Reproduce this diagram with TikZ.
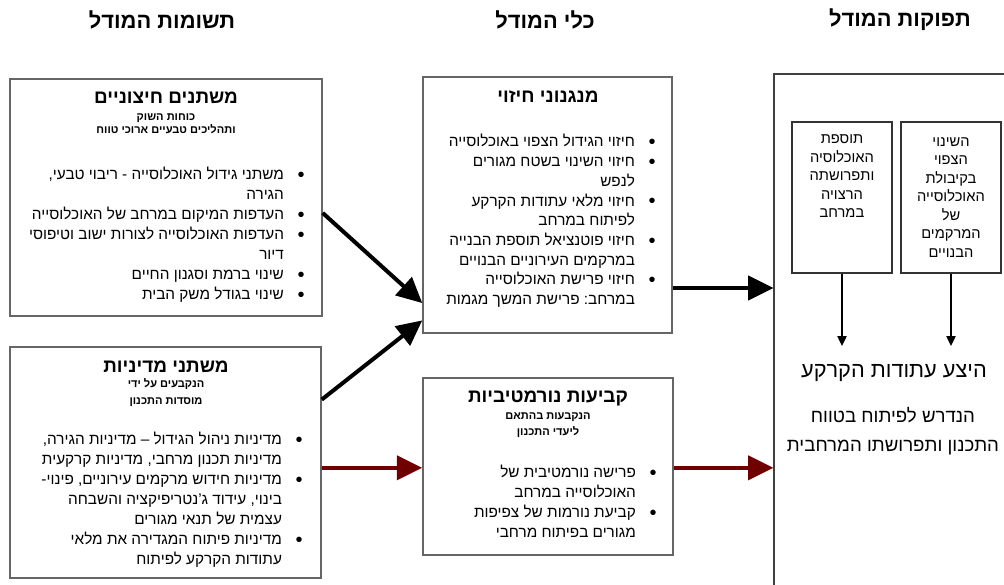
\documentclass[tikz,border=0pt]{standalone}
\usepackage{fontspec}
\setmainfont[Script=Hebrew]{Liberation Sans}
\usepackage{tikz}
\usetikzlibrary{arrows.meta}
\TeXXeTstate=1
\frenchspacing
\definecolor{modred}{RGB}{112,0,0}
\newcommand{\rl}[1]{\hbox{\beginR#1\endR}}
\newcommand{\blt}{\raisebox{-0.1em}{\fontsize{15}{15}\selectfont\textbullet}}
\newcommand{\itm}[1]{\rl{\blt\hspace{0.9em}#1}}
\newcommand{\cnt}[1]{\rl{\phantom{\blt}\hspace{0.9em}#1}}

\begin{document}
\begin{tikzpicture}[x=0.75pt, y=-0.75pt,
  box/.style={draw=black!60, line width=1.1pt, inner sep=0pt},
  ibox/.style={draw=black!80, line width=1pt, inner sep=0pt, minimum width=75pt, minimum height=113.25pt},
  hdr/.style={font=\fontsize{16.4}{18}\selectfont\bfseries},
  ttl/.style={font=\fontsize{14.2}{16}\selectfont\bfseries},
  sub/.style={align=center, inner sep=0pt, font=\fontsize{8.3}{9.75}\selectfont\bfseries},
  lst/.style={anchor=east, align=right, inner sep=0pt, font=\fontsize{11.5}{15}\selectfont},
  inn/.style={align=center, inner sep=0pt, font=\fontsize{11}{13.9}\selectfont},
  bigarr/.style={-{Triangle[length=19pt,width=18pt]}, line width=3pt},
  redarr/.style={bigarr, draw=modred, fill=modred},
  smarr/.style={-{Triangle[length=7.5pt,width=7pt]}, line width=1pt}]
  \useasboundingbox (0,0) rectangle (1004,585);

  \node[hdr] (hin) at (162,20) {\rl{תשומות המודל}};
  \node[hdr] (htool) at (545,20) {\rl{כלי המודל}};
  \node[hdr] (hout) at (900,20) {\rl{תפוקות המודל}};

  \node[box, minimum width=234pt, minimum height=177.75pt] (ext) at (166,197.5) {};
  \node[ttl] (ext-t) at (166,98) {\rl{משתנים חיצוניים}};
  \node[sub] (ext-s) at (166,124) {\rl{כוחות השוק}\\\rl{ותהליכים טבעיים ארוכי טווח}};
  \node[lst] (ext-l) at (305,235) {\itm{משתני גידול האוכלוסייה - ריבוי טבעי,}\\
    \cnt{הגירה}\\
    \itm{העדפות המיקום במרחב של האוכלוסייה}\\
    \itm{העדפות האוכלוסייה לצורות ישוב וטיפוסי}\\
    \cnt{דיור}\\
    \itm{שינוי ברמת וסגנון החיים}\\
    \itm{שינוי בגודל משק הבית}};

  \node[box, minimum width=233.25pt, minimum height=173.25pt] (pol) at (165.5,462.5) {};
  \node[ttl] (pol-t) at (166,367) {\rl{משתני מדיניות}};
  \node[sub, font=\fontsize{8.3}{12.75}\selectfont\bfseries] (pol-s) at (166,393) {\rl{הנקבעים על ידי}\\\rl{מוסדות התכנון}};
  \node[lst] (pol-l) at (303,500) {\itm{מדיניות ניהול הגידול – מדיניות הגירה,}\\
    \cnt{מדיניות תכנון מרחבי, מדיניות קרקעית}\\
    \itm{מדיניות חידוש מרקמים עירוניים, פינוי-}\\
    \cnt{בינוי, עידוד ג'נטריפיקציה והשבחה}\\
    \cnt{עצמית של תנאי מגורים}\\
    \itm{מדיניות פיתוח המגדירה את מלאי}\\
    \cnt{עתודות הקרקע לפיתוח}};

  \node[box, minimum width=186.75pt, minimum height=192pt] (pred) at (547.5,205) {};
  \node[ttl] (pred-t) at (548,97) {\rl{מנגנוני חיזוי}};
  \node[lst, font=\fontsize{11.5}{14.8}\selectfont] (pred-l) at (656,221) {\itm{חיזוי הגידול הצפוי באוכלוסייה}\\
    \itm{חיזוי השינוי בשטח מגורים}\\
    \cnt{לנפש}\\
    \itm{חיזוי מלאי עתודות הקרקע}\\
    \cnt{לפיתוח במרחב}\\
    \itm{חיזוי פוטנציאל תוספת הבנייה}\\
    \cnt{במרקמים העירוניים הבנויים}\\
    \itm{חיזוי פרישת האוכלוסייה}\\
    \cnt{במרחב: פרישת המשך מגמות}};

  \node[box, minimum width=187.5pt, minimum height=132.75pt] (norm) at (548,466.5) {};
  \node[ttl] (norm-t) at (548,398) {\rl{קביעות נורמטיביות}};
  \node[sub, font=\fontsize{8.3}{12}\selectfont\bfseries] (norm-s) at (548,425) {\rl{הנקבעות בהתאם}\\\rl{ליעדי התכנון}};
  \node[lst] (norm-l) at (657,502.5) {\itm{פרישה נורמטיבית של}\\
    \cnt{האוכלוסייה במרחב}\\
    \itm{קביעת נורמות של צפיפות}\\
    \cnt{מגורים בפיתוח מרחבי}};

  \node[draw=black!75, line width=0.8pt, minimum width=180pt, minimum height=394.5pt] (outp) at (894,337) {};
  \node[ibox] (ina) at (842,197.5) {};
  \node[inn] (ina-t) at (842,176.5) {\rl{תוספת}\\\rl{האוכלוסיה}\\\rl{ותפרושתה}\\\rl{הרצויה}\\\rl{במרחב}};
  \node[ibox] (inb) at (951,197.5) {};
  \node[inn] (inb-t) at (951,197.5) {\rl{השינוי}\\\rl{הצפוי}\\\rl{בקיבולת}\\\rl{האוכלוסייה}\\\rl{של}\\\rl{המרקמים}\\\rl{הבנויים}};
  \coordinate (ta) at (842,346);
  \coordinate (tb) at (951,346);
  \node[font=\fontsize{16.3}{18}\selectfont] (supply) at (894,373) {\rl{היצע עתודות הקרקע}};
  \node[font=\fontsize{14}{16}\selectfont] (supply2) at (893,415) {\rl{הנדרש לפיתוח בטווח}};
  \node[font=\fontsize{14}{16}\selectfont] (supply3) at (893,448) {\rl{התכנון ותפרושתו המרחבית}};

  \draw[bigarr] ([yshift=-11.6pt]ext.east) -- ([yshift=23pt]pred.south west);
  \draw[bigarr] ([yshift=-40pt]pol.north east) -- ([yshift=10pt]pred.south west);
  \draw[redarr] ([yshift=-4pt]pol.east) -- ([yshift=-4pt]pol.east -| norm.west);
  \draw[bigarr] ([yshift=-62.25pt]pred.east) -- ([yshift=-62.25pt]pred.east -| outp.west);
  \draw[redarr] ([yshift=-1pt]norm.east) -- ([yshift=-1pt]norm.east -| outp.west);
  \draw[smarr] (ina) -- (ta);
  \draw[smarr] (inb) -- (tb);
\end{tikzpicture}
\end{document}
